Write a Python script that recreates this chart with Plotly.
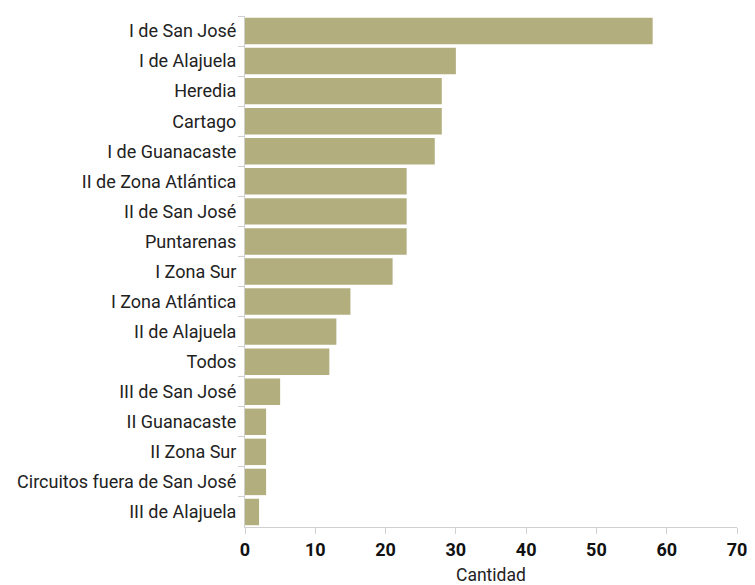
import plotly.graph_objects as go

categories = ["I de San José", "I de Alajuela", "Heredia", "Cartago", "I de Guanacaste",
              "II de Zona Atlántica", "II de San José", "Puntarenas", "I Zona Sur",
              "I Zona Atlántica", "II de Alajuela", "Todos", "III de San José",
              "II Guanacaste", "II Zona Sur", "Circuitos fuera de San José", "III de Alajuela"]
values = [58, 30, 28, 28, 27, 23, 23, 23, 21, 15, 13, 12, 5, 3, 3, 3, 2]
x_ticks = [0, 10, 20, 30, 40, 50, 60, 70]
x_title = "Cantidad"

FONT = "Roboto, sans-serif"

fig = go.Figure(go.Bar(
    x=values, y=categories, orientation="h",
    marker=dict(color="#b2ae7e", line=dict(width=0)),
))

fig.update_layout(
    width=747, height=577,
    margin=dict(l=237, r=14, t=8, b=58),
    plot_bgcolor="white", paper_bgcolor="white",
    bargap=0.12,
    font=dict(family=FONT, color="#222"),
    showlegend=False,
)
fig.add_annotation(
    text=x_title, xref="paper", yref="paper", x=0.5, y=0,
    xanchor="center", yanchor="top", yshift=-36, showarrow=False,
    font=dict(size=17.5, color="#222", family=FONT),
)
fig.update_xaxes(
    range=[0, 70], tickvals=x_ticks, showgrid=False, zeroline=False,
    showline=True, linecolor="#d0d0d0", linewidth=1, automargin="left+right",
    ticks="outside", ticklen=6, tickcolor="#d0d0d0",
    tickfont=dict(size=18, family=FONT, weight="bold", color="#111"),
)
fig.update_yaxes(
    autorange="reversed", showgrid=False, zeroline=False,
    showline=True, linecolor="#d0d0d0", linewidth=1,
    ticks="outside", ticklen=6, tickcolor="#d0d0d0", tickson="boundaries",
    tickfont=dict(size=18, color="#222"), ticklabelstandoff=4,
)

fig.write_html("out.html")
